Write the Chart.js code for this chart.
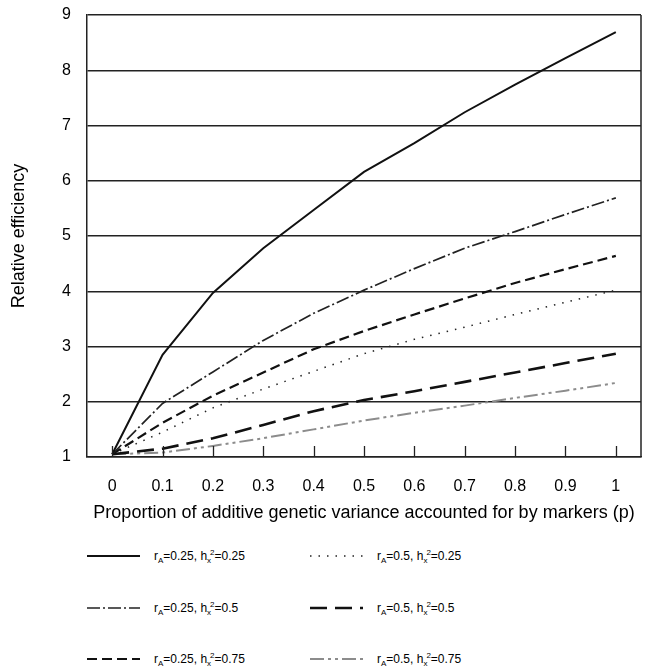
<!DOCTYPE html>
<html>
<head>
<meta charset="utf-8">
<title>Relative efficiency</title>
<script src="https://cdn.jsdelivr.net/npm/chart.js@4/dist/chart.umd.min.js"></script>
<style>
  html, body { margin: 0; padding: 0; background: #fff; }
  #wrap { position: relative; width: 645px; height: 666px; overflow: hidden; }
  #chart { position: absolute; left: 0; top: 0; }
  .item { position: absolute; height: 20px; display: flex; align-items: center;
          font-family: "Liberation Sans", Arial, sans-serif; font-size: 12px; color: #000; }
  .item svg { display: block; flex: none; }
  .item span { margin-left: 14px; white-space: nowrap; }
  .item sub { font-size: 8px; vertical-align: -3px; line-height: 0; }
  .item sup { font-size: 8px; vertical-align: 5px; line-height: 0; margin-left: -1px; }
</style>
</head>
<body>
<div id="wrap">
  <canvas id="chart" width="645" height="530"></canvas>
  <div id="legend"></div>
</div>
<script>
// Proportion of additive genetic variance accounted for by markers (p)
const pLabels = ['0', '0.1', '0.2', '0.3', '0.4', '0.5', '0.6', '0.7', '0.8', '0.9', '1'];

// Relative efficiency for each combination of r_A and h_x^2
const effA025H025 = [1.05, 2.85, 3.97, 4.78, 5.47, 6.16, 6.68, 7.24, 7.74, 8.22, 8.69];
const effA025H050 = [1.05, 1.97, 2.54, 3.11, 3.60, 4.02, 4.41, 4.78, 5.08, 5.39, 5.69];
const effA025H075 = [1.05, 1.62, 2.11, 2.53, 2.95, 3.28, 3.58, 3.87, 4.15, 4.40, 4.64];
const effA050H025 = [1.05, 1.45, 1.89, 2.23, 2.55, 2.87, 3.13, 3.35, 3.58, 3.80, 4.02];
const effA050H050 = [1.05, 1.15, 1.34, 1.58, 1.83, 2.03, 2.19, 2.36, 2.53, 2.70, 2.87];
const effA050H075 = [1.05, 1.08, 1.20, 1.34, 1.50, 1.66, 1.80, 1.93, 2.07, 2.20, 2.34];

// Parameter values naming each series
const rAValues  = ['0.25', '0.25', '0.25', '0.5', '0.5', '0.5'];
const hx2Values = ['0.25', '0.5', '0.75', '0.25', '0.5', '0.75'];

// Y axis tick values
const yTickValues = [1, 2, 3, 4, 5, 6, 7, 8, 9];

const FONT = '"Liberation Sans", Arial, sans-serif';

const seriesData = [effA025H025, effA025H050, effA025H075, effA050H025, effA050H050, effA050H075];
const seriesStyle = [
  { color: '#111', width: 2, dash: [] },
  { color: '#222', width: 1.7, dash: [13, 3, 2, 3] },
  { color: '#111', width: 2.2, dash: [10, 5] },
  { color: '#222', width: 1.5, dash: [1.5, 7] },
  { color: '#111', width: 2.6, dash: [17, 8] },
  { color: '#8c8c8c', width: 2, dash: [14, 4, 3, 4, 3, 4] }
];

const datasets = seriesData.map((d, i) => ({
  label: 'rA=' + rAValues[i] + ', hx2=' + hx2Values[i],
  data: d,
  borderColor: seriesStyle[i].color,
  borderWidth: seriesStyle[i].width,
  borderDash: seriesStyle[i].dash,
  pointRadius: 0,
  tension: 0,
  fill: false
}));

// Box outline on the right and short inward tick marks on the category axis
const framePlugin = {
  id: 'frame',
  afterDraw(chart) {
    const { ctx, chartArea: a, scales: { x } } = chart;
    ctx.save();
    ctx.strokeStyle = '#222';
    ctx.lineWidth = 1.5;
    ctx.beginPath();
    ctx.moveTo(a.right, a.top);
    ctx.lineTo(a.right, a.bottom);
    ctx.stroke();
    ctx.lineWidth = 1.3;
    pLabels.forEach((_, i) => {
      const px = Math.round(x.getPixelForValue(i)) + 0.5;
      ctx.beginPath();
      ctx.moveTo(px, a.bottom);
      ctx.lineTo(px, a.bottom - 11);
      ctx.stroke();
    });
    ctx.restore();
  }
};

const chart = new Chart(document.getElementById('chart'), {
  type: 'line',
  data: { labels: pLabels, datasets },
  options: {
    responsive: false,
    animation: false,
    layout: { padding: { top: 15, right: 4, left: 0, bottom: 0 } },
    plugins: { legend: { display: false }, tooltip: { enabled: false } },
    scales: {
      x: {
        type: 'category',
        offset: true,
        grid: { display: false },
        border: { display: true, color: '#222', width: 1.5 },
        ticks: { color: '#000', font: { family: FONT, size: 16 }, padding: 12, maxRotation: 0, autoSkip: false },
        title: {
          display: true,
          text: 'Proportion of additive genetic variance accounted for by markers (p)',
          color: '#000',
          font: { family: FONT, size: 18 },
          padding: { top: 0, bottom: 6 }
        },
        afterFit(s) { s.height = 73; s.paddingLeft = 0; s.paddingRight = 0; }
      },
      y: {
        min: 1,
        max: 9,
        afterBuildTicks(s) { s.ticks = yTickValues.map(v => ({ value: v })); },
        grid: { color: '#222', lineWidth: 1.5, drawTicks: false },
        border: { display: true, color: '#222', width: 1.5 },
        ticks: { color: '#000', font: { family: FONT, size: 16 }, padding: 16 },
        title: {
          display: true,
          text: 'Relative efficiency',
          color: '#000',
          font: { family: FONT, size: 18 },
          padding: { top: 8, bottom: 0 }
        },
        afterFit(s) { s.width = 87; s.paddingTop = 0; s.paddingBottom = 0; }
      }
    }
  },
  plugins: [framePlugin]
});

// Legend: two columns of three, with a line sample and sub/superscripted label
const legend = document.getElementById('legend');
const colLeft = [87, 310];
const rowCenter = [556, 608, 659];
datasets.forEach((ds, i) => {
  const col = Math.floor(i / 3), row = i % 3;
  const item = document.createElement('div');
  item.className = 'item';
  item.style.left = colLeft[col] + 'px';
  item.style.top = (rowCenter[row] - 10) + 'px';
  const svgNS = 'http://www.w3.org/2000/svg';
  const svg = document.createElementNS(svgNS, 'svg');
  svg.setAttribute('width', '53');
  svg.setAttribute('height', '20');
  const line = document.createElementNS(svgNS, 'line');
  line.setAttribute('x1', '0'); line.setAttribute('x2', '53');
  line.setAttribute('y1', '10'); line.setAttribute('y2', '10');
  line.setAttribute('stroke', ds.borderColor);
  line.setAttribute('stroke-width', ds.borderWidth);
  if (ds.borderDash.length) line.setAttribute('stroke-dasharray', ds.borderDash.join(' '));
  svg.appendChild(line);
  item.appendChild(svg);
  const span = document.createElement('span');
  span.innerHTML = 'r<sub>A</sub>=' + rAValues[i] + ', h<sub>x</sub><sup>2</sup>=' + hx2Values[i];
  item.appendChild(span);
  legend.appendChild(item);
});
</script>
</body>
</html>
